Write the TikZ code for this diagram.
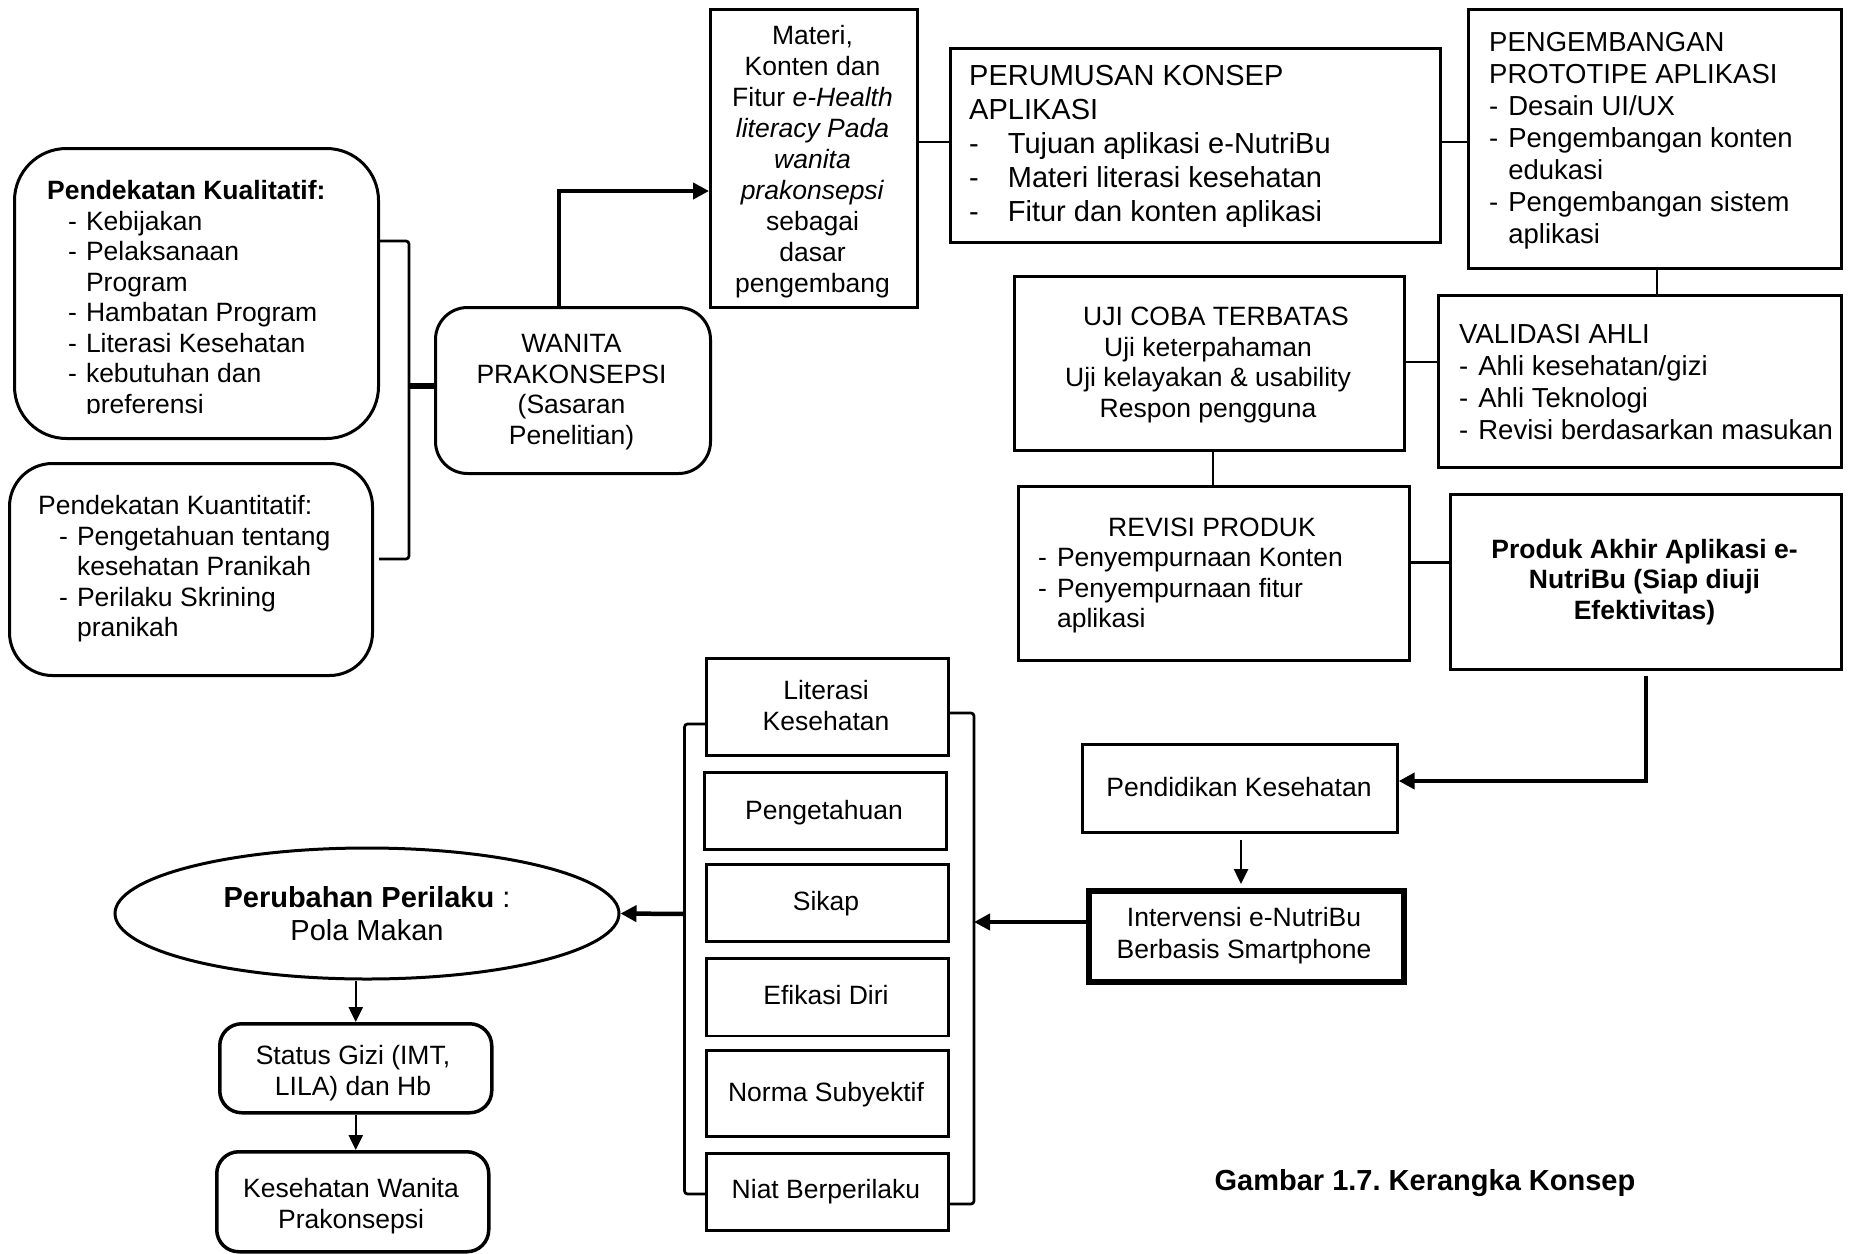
\documentclass[tikz,border=0pt]{standalone}
\usepackage{fontspec}
\setmainfont{Liberation Sans}
\usetikzlibrary{arrows.meta,shapes.geometric}
\frenchspacing
\newcommand\fsA{\fontsize{26.5}{30.5}\selectfont}
\newcommand\fsW{\fontsize{26.5}{31}\selectfont}
\newcommand\fsB{\fontsize{27.5}{32}\selectfont}
\newcommand\fsC{\fontsize{29}{34}\selectfont}
\newcommand\fsE{\fontsize{29}{33.5}\selectfont}
\tikzset{
  box/.style={draw, line width=2.7pt, inner sep=0pt, anchor=north west},
  rbox/.style={box, line width=3pt},
  txt/.style={inner sep=0pt, font=\fsA},
  link/.style={line width=2.7pt},
  arrthick/.style={line width=4.5pt, -{Triangle[length=16pt,width=16pt]}},
  arrthin/.style={line width=2.5pt, -{Triangle[length=15pt,width=14pt]}},
}
\begin{document}
\begin{tikzpicture}[x=1pt, y=-1pt]
\useasboundingbox (0,0) rectangle (1858,1253);

% ---------- frames ----------
\node[rbox, rounded corners=52pt, minimum width=364pt, minimum height=290pt] (qual) at (13,147) {};
\node[rbox, rounded corners=43pt, minimum width=363pt, minimum height=212pt] (quan) at (8,462) {};
\node[rbox, rounded corners=32pt, minimum width=275pt, minimum height=166pt] (wanita) at (434,306) {};
\node[box, minimum width=207pt, minimum height=298pt] (materi) at (709,8) {};
\node[box, minimum width=490pt, minimum height=194pt] (perumusan) at (949,47) {};
\node[box, minimum width=373pt, minimum height=259pt] (proto) at (1467,8) {};
\node[box, minimum width=403pt, minimum height=172pt] (validasi) at (1437,294) {};
\node[box, minimum width=390pt, minimum height=174pt] (ujicoba) at (1013,275) {};
\node[box, minimum width=391pt, minimum height=174pt] (revisi) at (1017,485) {};
\node[box, minimum width=391pt, minimum height=175pt] (produk) at (1449,493) {};
\node[box, minimum width=315pt, minimum height=88pt] (pendidikan) at (1081,743) {};
\node[box, line width=6pt, minimum width=315pt, minimum height=91pt] (intervensi) at (1086,888) {};
\node[box, minimum width=242pt, minimum height=97pt] (literasi) at (705,657) {};
\node[box, minimum width=242pt, minimum height=77pt] (pengetahuan) at (703,771) {};
\node[box, minimum width=242pt, minimum height=77pt] (sikap) at (705,863) {};
\node[box, minimum width=242pt, minimum height=77.5pt] (efikasi) at (705,957) {};
\node[box, minimum width=242pt, minimum height=86pt] (norma) at (705,1049) {};
\node[box, minimum width=242pt, minimum height=77pt] (niat) at (705,1152) {};
\node[draw, ellipse, line width=3pt, inner sep=0pt, minimum width=504pt, minimum height=131pt] (perilaku) at (367,913.5) {};
\node[rbox, line width=3.5pt, rounded corners=22pt, minimum width=272pt, minimum height=89pt] (gizi) at (218,1022) {};
\node[rbox, line width=3.5pt, rounded corners=22pt, minimum width=272pt, minimum height=100pt] (sehat) at (215,1150) {};

% ---------- texts ----------
\begin{scope}
  \clip (13,147) rectangle (377,413);
  \node[txt, anchor=base west] (qualtxt) at (47,199.5) {\begin{tabular}[t]{@{\hspace{21pt}}l@{\hspace{9pt}}l@{}}
    \multicolumn{2}{@{}l@{}}{\bfseries Pendekatan Kualitatif:}\\
    -&Kebijakan\\ -&Pelaksanaan\\ &Program\\ -&Hambatan Program\\
    -&Literasi Kesehatan\\ -&kebutuhan dan\\ &preferensi
  \end{tabular}};
\end{scope}
\node[txt, anchor=base west] (quantxt) at (38,514.7) {\begin{tabular}[t]{@{\hspace{21pt}}l@{\hspace{9pt}}l@{}}
    \multicolumn{2}{@{}l@{}}{Pendekatan Kuantitatif:}\\
    -&Pengetahuan tentang\\ &kesehatan Pranikah\\ -&Perilaku Skrining\\ &pranikah
  \end{tabular}};
\node[txt, anchor=base] (wanitatxt) at (571.5,352.7) {\begin{tabular}[t]{@{}c@{}}
    WANITA\\PRAKONSEPSI\\(Sasaran\\Penelitian)\end{tabular}};
\node[txt, font=\fsW, anchor=base] (materitxt) at (812.5,44) {\begin{tabular}[t]{@{}c@{}}
    Materi,\\Konten dan\\Fitur \textit{e-Health}\\\textit{literacy Pada}\\\textit{wanita}\\
    \textit{prakonsepsi}\\sebagai\\dasar\\pengembang\end{tabular}};
\node[txt, font=\fsC, anchor=base west] (perumusantxt) at (969,85) {\begin{tabular}[t]{@{}l@{\hspace{29pt}}l@{}}
    \multicolumn{2}{@{}l@{}}{PERUMUSAN KONSEP}\\
    \multicolumn{2}{@{}l@{}}{APLIKASI}\\
    -&Tujuan aplikasi e-NutriBu\\ -&Materi literasi kesehatan\\ -&Fitur dan konten aplikasi
  \end{tabular}};
\node[txt, font=\fsB, anchor=base west] (prototxt) at (1489,51.3) {\begin{tabular}[t]{@{}l@{\hspace{10pt}}l@{}}
    \multicolumn{2}{@{}l@{}}{PENGEMBANGAN}\\
    \multicolumn{2}{@{}l@{}}{PROTOTIPE APLIKASI}\\
    -&Desain UI/UX\\ -&Pengembangan konten\\ &edukasi\\ -&Pengembangan sistem\\ &aplikasi
  \end{tabular}};
\node[txt, font=\fsB, anchor=base west] (validasitxt) at (1459,343.9) {\begin{tabular}[t]{@{}l@{\hspace{10pt}}l@{}}
    \multicolumn{2}{@{}l@{}}{VALIDASI AHLI}\\
    -&Ahli kesehatan/gizi\\ -&Ahli Teknologi\\ -&Revisi berdasarkan masukan
  \end{tabular}};
\node[txt, anchor=base] (ujicobatxt) at (1208,325.5) {\begin{tabular}[t]{@{}c@{}}
    \hspace*{16pt}UJI COBA TERBATAS\\Uji keterpahaman\\Uji kelayakan \& usability\\Respon pengguna\end{tabular}};
\node[txt, anchor=base] (revisititle) at (1212,536.6) {REVISI PRODUK};
\node[txt, anchor=base west] (revisitxt) at (1038,566.6) {\begin{tabular}[t]{@{}l@{\hspace{10pt}}l@{}}
    -&Penyempurnaan Konten\\ -&Penyempurnaan fitur\\ &aplikasi
  \end{tabular}};
\node[txt, anchor=base] (produktxt) at (1644.5,558.2) {\bfseries\begin{tabular}[t]{@{}c@{}}
    Produk Akhir Aplikasi e-\\NutriBu (Siap diuji\\Efektivitas)\end{tabular}};
\node[txt, anchor=base] (pendidikantxt) at (1239,796.8) {Pendidikan Kesehatan};
\node[txt, font=\fontsize{26.5}{32}\selectfont, anchor=base] (intervensitxt) at (1244,926.5) {\begin{tabular}[t]{@{}c@{}}
    Intervensi e-NutriBu\\Berbasis Smartphone\end{tabular}};
\node[txt, font=\fsW, anchor=base] (literasitxt) at (826,699.7) {\begin{tabular}[t]{@{}c@{}}Literasi\\Kesehatan\end{tabular}};
\node[txt, anchor=base] (pengetahuantxt) at (824,819.4) {Pengetahuan};
\node[txt, anchor=base] (sikaptxt) at (826,910.2) {Sikap};
\node[txt, anchor=base] (efikasitxt) at (826,1004.6) {Efikasi Diri};
\node[txt, anchor=base] (normatxt) at (826,1101.2) {Norma Subyektif};
\node[txt, anchor=base] (niattxt) at (826,1198.7) {Niat Berperilaku};
\node[txt, font=\fsE, anchor=base] (perilakutxt) at (367,907) {\begin{tabular}[t]{@{}c@{}}
    {\bfseries Perubahan Perilaku} :\\Pola Makan\end{tabular}};
\node[txt, font=\fsW, anchor=base] (gizitxt) at (353,1064) {\begin{tabular}[t]{@{}c@{}}
    Status Gizi (IMT,\\LILA) dan Hb\end{tabular}};
\node[txt, font=\fsW, anchor=base] (sehattxt) at (351,1197) {\begin{tabular}[t]{@{}c@{}}
    Kesehatan Wanita\\Prakonsepsi\end{tabular}};
\node[txt, font=\fsC\bfseries, anchor=base] (caption) at (1425,1190) {Gambar 1.7. Kerangka Konsep};

% ---------- connectors ----------
\coordinate (bqT) at (379,241);
\coordinate (bqB) at (379,559);
\coordinate (bqM) at (409,386);
\draw[link, rounded corners=3pt] (bqT) -| (bqM) |- (bqB);
\draw[line width=6pt] (bqM) -- (bqM -| wanita.west);

\coordinate (wm) at (559,191);
\draw[arrthick] (wanita.north -| wm) |- (materi.west |- wm);

\coordinate (y142) at (0,142);
\draw[link] (materi.east |- y142) -- (perumusan.west |- y142);
\draw[link] (perumusan.east |- y142) -- (proto.west |- y142);

\coordinate (x1657) at (1657,0);
\draw[link] (proto.south -| x1657) -- (validasi.north -| x1657);

\coordinate (y362) at (0,362);
\draw[link] (ujicoba.east |- y362) -- (validasi.west |- y362);

\coordinate (x1213) at (1213,0);
\draw[link] (ujicoba.south -| x1213) -- (revisi.north -| x1213);

\coordinate (y562) at (0,562.5);
\draw[link] (revisi.east |- y562) -- (produk.west |- y562);

\coordinate (y781) at (0,781);
\draw[arrthick, shorten <=5pt] (produk.south) |- (pendidikan.east |- y781);

\coordinate (x1241) at (1241,0);
\draw[arrthin, shorten <=6pt, shorten >=4pt] (pendidikan.south -| x1241) -- (intervensi.north -| x1241);

\coordinate (rbT) at (947,713);
\coordinate (rbB) at (947,1204);
\coordinate (rbM) at (974,922);
\draw[link, rounded corners=3pt] (rbT) -| (rbM) |- (rbB);
\draw[arrthick] (intervensi.west |- rbM) -- (rbM);

\coordinate (lbT) at (705,724);
\coordinate (lbB) at (705,1194);
\coordinate (lbM) at (684.5,914);
\draw[link, rounded corners=3pt] (lbT) -| (lbM) |- (lbB);
\draw[arrthick] (lbM) -- (perilaku.east);

\draw[arrthin] (gizi.north |- perilaku.south) -- (gizi.north);
\draw[arrthin] (gizi.south) -- (gizi.south |- sehat.north);
\end{tikzpicture}
\end{document}
